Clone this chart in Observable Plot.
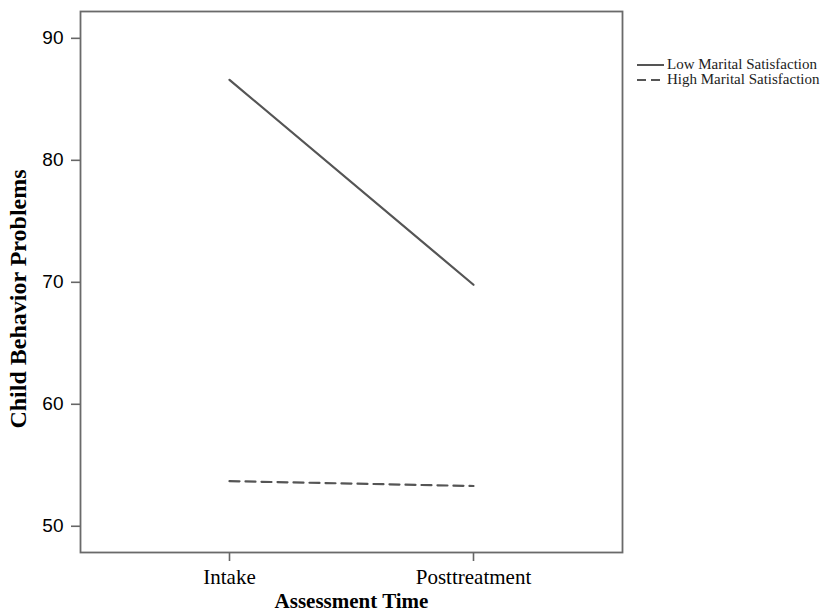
<!DOCTYPE html>
<html>
<head>
<meta charset="utf-8">
<script src="https://cdn.jsdelivr.net/npm/d3@7"></script>
<script src="https://cdn.jsdelivr.net/npm/@observablehq/plot@0.6"></script>
<style>
  html, body { margin: 0; padding: 0; background: #fff; }
  #wrap { position: relative; width: 835px; height: 614px; }
  #legend { position: absolute; left: 637px; top: 57px; font-family: "Liberation Serif", serif; font-size: 15px; color: #222; line-height: 15px; }
  #legend .row { display: flex; align-items: center; height: 15px; white-space: nowrap; }
  #legend svg { margin-right: 3px; }
</style>
</head>
<body>
<div id="wrap"></div>
<script>
const times = ["Intake", "Posttreatment"];
const seriesNames = ["Low Marital Satisfaction", "High Marital Satisfaction"];
const lowValues = [86.6, 69.8];
const highValues = [53.7, 53.3];
const yTicks = [50, 60, 70, 80, 90];
const xLabel = "Assessment Time";
const yLabel = "Child Behavior Problems";

const lowData = times.map((t, i) => ({time: t, value: lowValues[i], series: seriesNames[0]}));
const highData = times.map((t, i) => ({time: t, value: highValues[i], series: seriesNames[1]}));
const dashes = ["none", "10,6"];

const chart = Plot.plot({
  width: 835,
  height: 614,
  marginTop: 11,
  marginBottom: 62,
  marginLeft: 80,
  marginRight: 213,
  style: {background: "#fff", color: "#000"},
  x: {type: "point", domain: times, padding: 0.61},
  y: {domain: [47.85, 92.2]},
  marks: [
    Plot.axisY({ticks: yTicks, tickSize: 9, tickPadding: 8, fontSize: 19, fontFamily: "Liberation Sans, Arial, sans-serif", stroke: "#666", strokeWidth: 1.6, label: null}),
    Plot.axisX({tickSize: 9, tickPadding: 8, fontSize: 21, fontFamily: "Liberation Serif, Times New Roman, serif", stroke: "#666", strokeWidth: 1.6, label: null}),
    Plot.frame({stroke: "#6a6a6a", strokeWidth: 1.8}),
    Plot.line(lowData, {x: "time", y: "value", stroke: "#555", strokeWidth: 2.2, strokeDasharray: dashes[0]}),
    Plot.line(highData, {x: "time", y: "value", stroke: "#555", strokeWidth: 2.2, strokeDasharray: dashes[1]}),
    Plot.text([yLabel], {text: d => d, frameAnchor: "left", textAnchor: "middle", rotate: -90, dx: -62, dy: 17, fontWeight: "bold", fontSize: 24, fontFamily: "Liberation Serif, Times New Roman, serif", fill: "#000"}),
    Plot.text([xLabel], {text: d => d, frameAnchor: "bottom", dy: 55, fontWeight: "bold", fontSize: 21, fontFamily: "Liberation Serif, Times New Roman, serif", fill: "#000"})
  ]
});
const wrap = document.getElementById("wrap");
wrap.appendChild(chart);

const legend = document.createElement("div");
legend.id = "legend";
seriesNames.forEach((name, i) => {
  const row = document.createElement("div");
  row.className = "row";
  row.innerHTML = `<svg width="27" height="6"><line x1="0" y1="3" x2="27" y2="3" stroke="#555" stroke-width="2" stroke-dasharray="${i === 0 ? "none" : "9,5"}"/></svg><span>${name}</span>`;
  legend.appendChild(row);
});
wrap.appendChild(legend);
</script>
</body>
</html>
